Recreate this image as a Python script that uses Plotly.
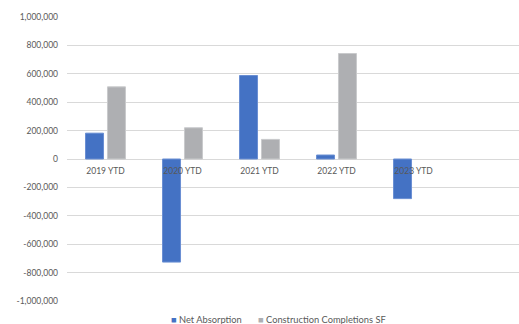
import plotly.graph_objects as go

categories = ["2019 YTD", "2020 YTD", "2021 YTD", "2022 YTD", "2023 YTD"]
net_absorption = [182000, -726000, 588000, 28000, -279000]
construction_completions = [508000, 220000, 138000, 743000, None]
tick_values = [1000000, 800000, 600000, 400000, 200000, 0,
               -200000, -400000, -600000, -800000, -1000000]
tick_labels = [f"{v:,}" for v in tick_values]
series_names = ["Net Absorption", "Construction Completions SF"]
series_colors = ["#4472C4", "#AEAFB2"]
series_edges = ["#6A8FD3", "#C9CACC"]

FONT = "Lato"
TXT = "#595959"

fig = go.Figure()
for name, vals, col, edge in zip(series_names,
                                 [net_absorption, construction_completions],
                                 series_colors, series_edges):
    fig.add_trace(go.Bar(
        x=categories, y=vals, name=name, showlegend=False,
        marker=dict(color=col, line=dict(color=edge, width=1)),
    ))

# legend row: coloured square glyph + series name for each series
legend_text = "\u2003\u2002\u2002".join(
    f'<span style="color:{col}">■</span> {name}'
    for name, col in zip(series_names, series_colors)
)
fig.add_trace(go.Scatter(
    x=[None], y=[None], mode="markers",
    marker=dict(size=1, color="rgba(0,0,0,0)"),
    name=legend_text, showlegend=True, hoverinfo="skip",
))

fig.update_layout(
    width=519, height=324,
    margin=dict(l=67, r=0, t=17, b=23, autoexpand=False),
    paper_bgcolor="white", plot_bgcolor="white",
    barmode="group", bargap=0.43, bargroupgap=0.18,
    font=dict(family=FONT, size=8.5, color=TXT),
    showlegend=True,
    legend=dict(orientation="h", xref="container", x=131 / 519, xanchor="left",
                yref="container", y=(324 - 319) / 324, yanchor="middle",
                font=dict(family=FONT, size=9.3, color=TXT),
                itemwidth=30, bgcolor="rgba(0,0,0,0)"),
    xaxis=dict(
        type="category", range=[-0.5, 5.37],
        anchor="free", position=0.5,
        showgrid=False, zeroline=False, showline=False,
        ticks="", ticklabelstandoff=5,
        tickfont=dict(family=FONT, size=8.5, color=TXT),
    ),
    yaxis=dict(
        range=[-1000000, 1000000], domain=[0, 1],
        tickvals=tick_values, ticktext=tick_labels,
        showgrid=True, gridcolor="#D9D9D9", gridwidth=1,
        zeroline=True, zerolinecolor="#D9D9D9", zerolinewidth=1,
        showline=False, ticks="", ticklabelstandoff=8,
        tickfont=dict(family=FONT, size=8.5, color=TXT),
    ),
)

fig.write_html("out.html")
